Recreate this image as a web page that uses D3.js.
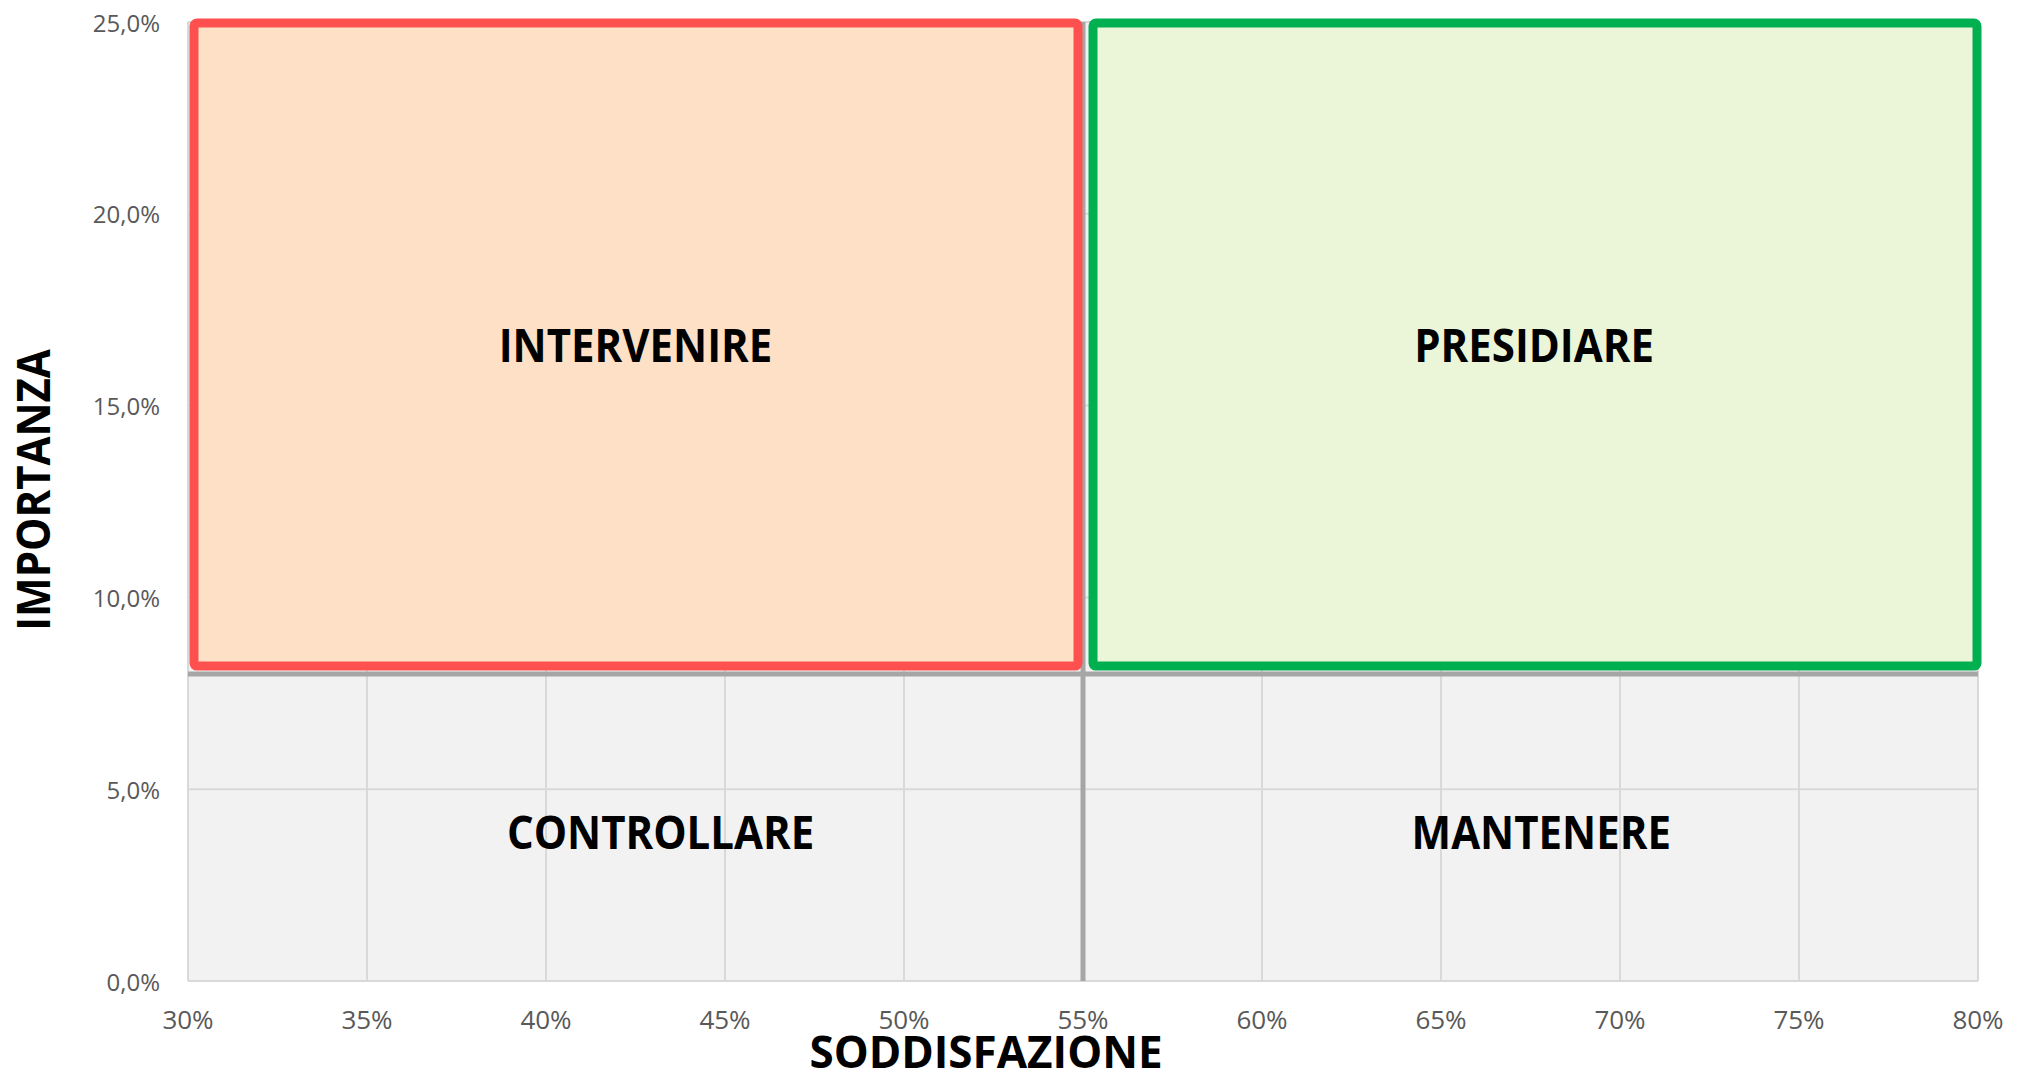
<!DOCTYPE html>
<html><head><meta charset="utf-8">
<script src="https://cdn.jsdelivr.net/npm/d3@7"></script>
<style>html,body{margin:0;padding:0;background:#fff;}svg{display:block;}</style>
</head><body>
<svg id="chart" width="2032" height="1081"></svg>
<script>
// ---- data ----
const xTicks = [30, 35, 40, 45, 50, 55, 60, 65, 70, 75, 80];
const yTicks = [0, 5, 10, 15, 20, 25];
const xDomain = [30, 80];
const yDomain = [0, 25];
const splitX = 55;   // soddisfazione threshold
const splitY = 8;    // importanza threshold
const zoneNames = ["INTERVENIRE", "PRESIDIARE"];
const zoneX0 = [30, 55];
const zoneX1 = [55, 80];
const zoneY0 = [8, 8];
const zoneY1 = [25, 25];
const labelNames = ["INTERVENIRE", "PRESIDIARE", "CONTROLLARE", "MANTENERE"];
const labelX = [42.5, 67.6, 43.2, 67.8];
const labelY = [16.6, 16.6, 3.9, 3.9];
const xTitle = "SODDISFAZIONE";
const yTitle = "IMPORTANZA";

// ---- layout ----
const svg = d3.select("#chart");
const L = 188, R = 1978, T = 22, B = 981;
const x = d3.scaleLinear().domain(xDomain).range([L, R]);
const y = d3.scaleLinear().domain(yDomain).range([B, T]);
const font = "'Open Sans', 'DejaVu Sans', sans-serif";

// plot background
svg.append("rect").attr("x", L).attr("y", T).attr("width", R - L).attr("height", B - T)
  .attr("fill", "#f2f2f2");

// gridlines
svg.append("g").selectAll("line").data(xTicks.slice(1)).join("line")
  .attr("x1", d => x(d)).attr("x2", d => x(d)).attr("y1", T).attr("y2", B)
  .attr("stroke", "#d9d9d9").attr("stroke-width", 2);
svg.append("g").selectAll("line").data(yTicks.slice(1)).join("line")
  .attr("x1", L).attr("x2", R).attr("y1", d => y(d)).attr("y2", d => y(d))
  .attr("stroke", "#d9d9d9").attr("stroke-width", 2);
// axis lines (left/bottom)
svg.append("line").attr("x1", L).attr("x2", L).attr("y1", T).attr("y2", B)
  .attr("stroke", "#d9d9d9").attr("stroke-width", 2);
svg.append("line").attr("x1", L).attr("x2", R).attr("y1", B).attr("y2", B)
  .attr("stroke", "#d9d9d9").attr("stroke-width", 2);

// quadrant divider lines
svg.append("line").attr("x1", x(splitX)).attr("x2", x(splitX)).attr("y1", T).attr("y2", B)
  .attr("stroke", "#a6a6a6").attr("stroke-width", 5);
svg.append("line").attr("x1", L).attr("x2", R).attr("y1", y(splitY)).attr("y2", y(splitY))
  .attr("stroke", "#a6a6a6").attr("stroke-width", 5);

// zone rectangles
const zoneStroke = ["#ff5050", "#00b050"];
const zoneFill = ["#fde0c5", "#ebf5d8"];
const padL = [6, 10], padR = [5, 1];
svg.append("g").selectAll("rect").data(zoneNames).join("rect")
  .attr("x", (d, i) => x(zoneX0[i]) + padL[i])
  .attr("width", (d, i) => x(zoneX1[i]) - padR[i] - x(zoneX0[i]) - padL[i])
  .attr("y", (d, i) => y(zoneY1[i]) + 1)
  .attr("height", (d, i) => y(zoneY0[i]) - 8 - y(zoneY1[i]) - 1)
  .attr("rx", 3)
  .attr("fill", (d, i) => zoneFill[i])
  .attr("stroke", (d, i) => zoneStroke[i])
  .attr("stroke-width", 9);

// quadrant labels
svg.append("g").selectAll("text").data(labelNames).join("text")
  .attr("transform", (d, i) => `translate(${x(labelX[i])},${y(labelY[i])}) scale(1,1.1)`)
  .attr("text-anchor", "middle").attr("dominant-baseline", "central")
  .attr("font-family", font).attr("font-weight", 700).attr("font-size", 42)
  .attr("fill", "#000").text(d => d);

// y tick labels
const fmtY = d => d3.format(".1f")(d).replace(".", ",") + "%";
svg.append("g").selectAll("text").data(yTicks).join("text")
  .attr("x", 160).attr("y", d => y(d))
  .attr("text-anchor", "end").attr("dominant-baseline", "central")
  .attr("font-family", font).attr("font-size", 24).attr("fill", "#595959")
  .text(fmtY);

// x tick labels
svg.append("g").selectAll("text").data(xTicks).join("text")
  .attr("x", d => x(d)).attr("y", 1019)
  .attr("text-anchor", "middle").attr("dominant-baseline", "central")
  .attr("font-family", font).attr("font-size", 26).attr("fill", "#595959")
  .text(d => d + "%");

// axis titles
svg.append("text").attr("x", 986).attr("y", 1068)
  .attr("text-anchor", "middle")
  .attr("font-family", font).attr("font-weight", 700).attr("font-size", 44)
  .attr("fill", "#000").text(xTitle);
svg.append("text")
  .attr("transform", `translate(50,${490}) rotate(-90) scale(1,1.1)`)
  .attr("text-anchor", "middle")
  .attr("font-family", font).attr("font-weight", 700).attr("font-size", 42)
  .attr("fill", "#000").text(yTitle);
</script>
</body></html>
